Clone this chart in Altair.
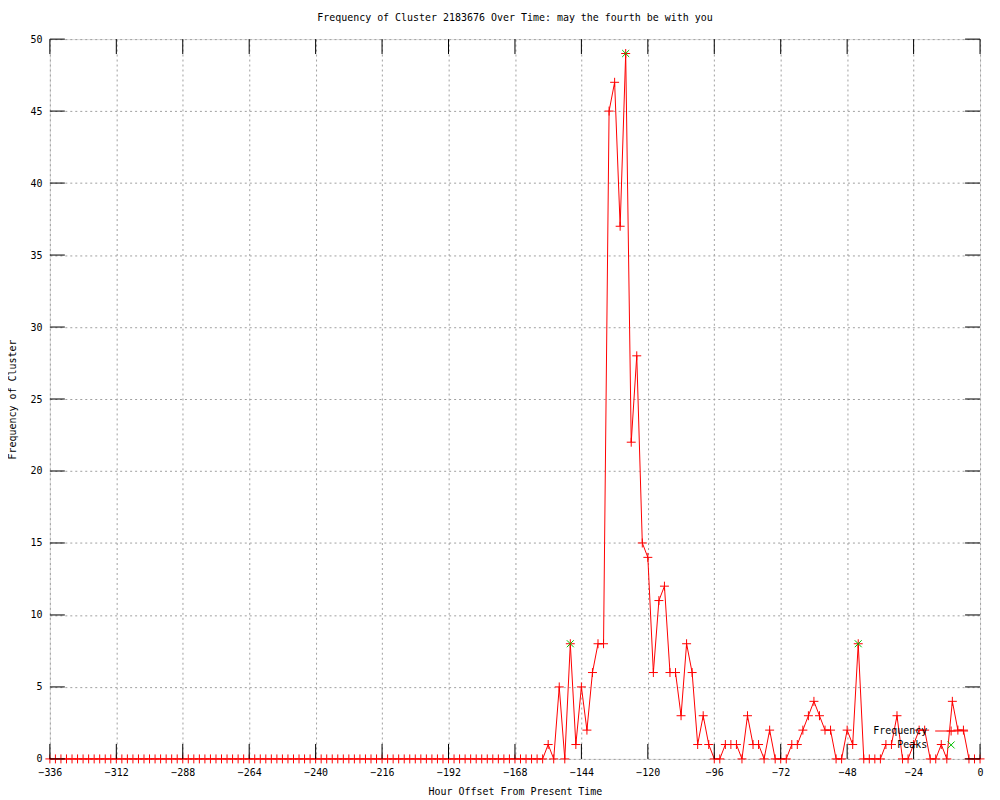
import altair as alt
import pandas as pd

# ---- data ----
hours = list(range(-336, 1, 2))  # sample times (every 2 hours)
freq_early = [
    0, 0, 0, 0, 0, 0, 0, 0, 0, 0,
    0, 0, 0, 0, 0, 0, 0, 0, 0, 0,
    0, 0, 0, 0, 0, 0, 0, 0, 0, 0,
    0, 0, 0, 0, 0, 0, 0, 0, 0, 0,
    0, 0, 0, 0, 0, 0, 0, 0, 0, 0,
    0, 0, 0, 0, 0, 0, 0, 0, 0, 0,
    0, 0, 0, 0, 0, 0, 0, 0, 0, 0,
    0, 0, 0, 0, 0, 0, 0, 0, 0, 0,
    0, 0, 0, 0, 0, 0, 0, 0, 0, 0,
]  # -336 .. -158
freq_late = [
    1, 0, 5, 0, 8, 1, 5, 2, 6, 8,
    8, 45, 47, 37, 49, 22, 28, 15, 14, 6,
    11, 12, 6, 6, 3, 8, 6, 1, 3, 1,
    0, 0, 1, 1, 1, 0, 3, 1, 1, 0,
    2, 0, 0, 0, 1, 1, 2, 3, 4, 3,
    2, 2, 0, 0, 2, 1, 8, 0, 0, 0,
    0, 1, 1, 3, 0, 0, 1, 2, 2, 0,
    0, 1, 0, 4, 2, 2, 0, 0, 0,
]  # -156 .. 0
freq = freq_early + freq_late

peak_hours = [-148, -128, -44]
peak_values = [8, 49, 8]

x_ticks = [-336, -312, -288, -264, -240, -216, -192, -168, -144, -120, -96, -72, -48, -24, 0]
y_ticks = [0, 5, 10, 15, 20, 25, 30, 35, 40, 45, 50]

TITLE = "Frequency of Cluster 2183676 Over Time: may the fourth be with you"
X_TITLE = "Hour Offset From Present Time"
Y_TITLE = "Frequency of Cluster"
FONT = "DejaVu Sans Mono"

W, H = 933, 722
TICK = 15
RED = "#ff0000"
GREEN = "#00c000"
PLUS = "M-1,0L1,0M0,-1L0,1"
CROSS = "M-1,-1L1,1M-1,1L1,-1"

df = pd.DataFrame({"hour": hours, "freq": freq})
peaks = pd.DataFrame({"hour": peak_hours, "freq": peak_values})
xt = pd.DataFrame({"hour": x_ticks})
yt = pd.DataFrame({"freq": y_ticks})
one = pd.DataFrame({"a": [0]})

xscale = alt.Scale(domain=[-336, 0], nice=False, zero=False)
yscale = alt.Scale(domain=[0, 50], nice=False)

xaxis = alt.Axis(values=x_ticks, grid=True, gridColor="#a0a0a0", gridDash=[2, 3], gridWidth=1,
                 ticks=False, domain=False, labelFont=FONT, labelFontSize=10, labelColor="black",
                 labelPadding=9, labelFlush=False, labelOverlap=False, title=X_TITLE,
                 titleFont=FONT, titleFontSize=10, titleFontWeight="normal", titleColor="black",
                 titlePadding=9)
yaxis = alt.Axis(values=y_ticks, grid=True, gridColor="#a0a0a0", gridDash=[2, 3], gridWidth=1,
                 ticks=False, domain=False, labelFont=FONT, labelFontSize=10, labelColor="black",
                 labelPadding=8, labelFlush=False, labelOverlap=False, title=Y_TITLE,
                 titleFont=FONT, titleFontSize=10, titleFontWeight="normal", titleColor="black",
                 titlePadding=12)

X = alt.X("hour:Q", scale=xscale, axis=xaxis)
Y = alt.Y("freq:Q", scale=yscale, axis=yaxis)

line = alt.Chart(df).mark_line(color=RED, strokeWidth=1, interpolate="linear").encode(x=X, y=Y)
pts = alt.Chart(df).mark_point(shape=PLUS, size=81, filled=False, color=RED, strokeWidth=1,
                               opacity=1).encode(x=X, y=Y)
pk = alt.Chart(peaks).mark_point(shape=CROSS, size=49, filled=False, color=GREEN, strokeWidth=1,
                                 opacity=1).encode(x=X, y=Y)

xt_bot = alt.Chart(xt).mark_rule(color="black", strokeWidth=1).encode(
    x=X, y=alt.value(H), y2=alt.value(H - TICK))
xt_top = alt.Chart(xt).mark_rule(color="black", strokeWidth=1).encode(
    x=X, y=alt.value(0), y2=alt.value(TICK))
yt_left = alt.Chart(yt).mark_rule(color="black", strokeWidth=1).encode(
    y=Y, x=alt.value(0), x2=alt.value(TICK))
yt_right = alt.Chart(yt).mark_rule(color="black", strokeWidth=1).encode(
    y=Y, x=alt.value(W), x2=alt.value(W - TICK))

# legend (gnuplot style, inside bottom-right)
leg_y1, leg_y2 = 694, 708
leg_txt1 = alt.Chart(one).mark_text(align="right", baseline="middle", font=FONT, fontSize=10,
                                    color="black").encode(
    x=alt.value(880), y=alt.value(leg_y1), text=alt.value("Frequency"))
leg_txt2 = alt.Chart(one).mark_text(align="right", baseline="middle", font=FONT, fontSize=10,
                                    color="black").encode(
    x=alt.value(880), y=alt.value(leg_y2), text=alt.value("Peaks"))
leg_line = alt.Chart(one).mark_rule(color=RED, strokeWidth=1).encode(
    x=alt.value(888), x2=alt.value(921), y=alt.value(leg_y1))
leg_plus = alt.Chart(one).mark_point(shape=PLUS, size=81, filled=False, color=RED, strokeWidth=1,
                                     opacity=1).encode(x=alt.value(904), y=alt.value(leg_y1))
leg_cross = alt.Chart(one).mark_point(shape=CROSS, size=49, filled=False, color=GREEN,
                                      strokeWidth=1, opacity=1).encode(x=alt.value(904), y=alt.value(leg_y2))

chart = alt.layer(
    line, pts, pk, xt_bot, xt_top, yt_left, yt_right,
    leg_line, leg_plus, leg_cross, leg_txt1, leg_txt2,
).properties(
    width=W, height=H,
    title=alt.Title(TITLE, font=FONT, fontSize=10, fontWeight="normal", color="black",
                    anchor="middle", offset=11),
    autosize="none",
    padding={"left": 42, "top": 30, "right": 12, "bottom": 38},
).configure_view(stroke="black", strokeWidth=1).configure(background="white")

chart.save("out.html", embed_options={"renderer": "svg", "actions": False})
